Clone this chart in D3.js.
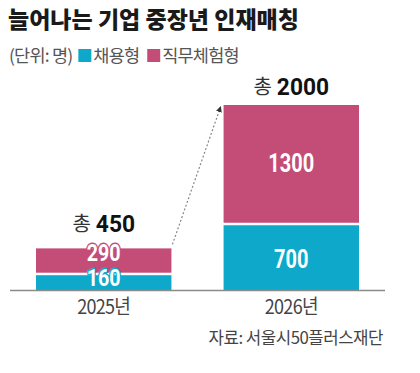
<!DOCTYPE html>
<html><head><meta charset="utf-8">
<script src="https://cdn.jsdelivr.net/npm/d3@7"></script>
<style>
html,body{margin:0;padding:0;background:#fff;}
svg{display:block;}
.kr{font-family:"Noto Sans CJK KR","Noto Sans",sans-serif;}
.num{font-family:"Roboto","Liberation Sans",sans-serif;}
</style>
</head><body>
<svg id="chart" width="420" height="373"></svg>
<script>
const title = "늘어나는 기업 중장년 인재매칭";
const unitLabel = "(단위: 명)";
const seriesNames = ["채용형", "직무체험형"];
const seriesColors = ["#0ea8ca", "#c44d78"];
const categories = ["2025년", "2026년"];
const hiring = [160, 700];       // 채용형
const experience = [290, 1300];  // 직무체험형
const totals = [450, 2000];
const totalPrefix = "총";
const source = "자료: 서울시50플러스재단";

const svg = d3.select("#chart");

const x = d3.scaleBand().domain(categories).range([36, 359]).paddingInner(0.278).paddingOuter(0);
const y = d3.scaleLinear().domain([0, 2000]).range([290, 105]);
const gap = 2.5;

function numText(parent, tx, cy, txt, size, sx, fill, anchor){
  return parent.append("g").attr("transform",`translate(${tx},${cy}) scale(${sx},1)`)
    .append("text").attr("class","num").attr("text-anchor",anchor||"middle").attr("dy","0.36em")
    .attr("font-size",size).attr("font-weight",700).attr("fill",fill).text(txt);
}

// title
svg.append("text").attr("class","kr").attr("x",8).attr("y",28)
  .attr("font-size",23).attr("font-weight",900).attr("fill","#1a1a1a")
  .attr("letter-spacing",0).text(title);

// subtitle / legend (laid out sequentially)
const sub = svg.append("g").attr("class","kr").attr("font-size",17.5).attr("fill","#555");
let cursor = 9;
const u = sub.append("text").attr("x",cursor).attr("y",62).attr("letter-spacing",-0.8).text(unitLabel);
cursor += u.node().getComputedTextLength() + 6;
seriesNames.forEach((n,i)=>{
  sub.append("rect").attr("x",cursor).attr("y",49).attr("width",13).attr("height",13).attr("fill",seriesColors[i]);
  cursor += 15;
  const t = sub.append("text").attr("x",cursor).attr("y",62).attr("letter-spacing",-0.8).text(n);
  cursor += t.node().getComputedTextLength() + 8;
});

// bars
categories.forEach((c,i)=>{
  const bx = x(c), bw = x.bandwidth();
  svg.append("rect").attr("x",bx).attr("width",bw)
    .attr("y",y(hiring[i])).attr("height",y(0)-y(hiring[i])).attr("fill",seriesColors[0]);
  svg.append("rect").attr("x",bx).attr("width",bw)
    .attr("y",y(hiring[i]+experience[i])).attr("height",y(hiring[i])-y(hiring[i]+experience[i])-gap)
    .attr("fill",seriesColors[1]);
});

// value labels
categories.forEach((c,i)=>{
  const cx = x(c)+x.bandwidth()/2;
  if (i===0){
    numText(svg, cx, y(hiring[i]+experience[i])+4, experience[i], 24, 0.82, "#fff")
      .attr("stroke",seriesColors[1]).attr("stroke-width",3).attr("paint-order","stroke").attr("stroke-linejoin","round");
    numText(svg, cx, y(hiring[i])+2, hiring[i], 24, 0.82, "#fff")
      .attr("stroke",seriesColors[0]).attr("stroke-width",3).attr("paint-order","stroke").attr("stroke-linejoin","round");
  } else {
    numText(svg, cx, (y(hiring[i]+experience[i])+y(hiring[i]))/2-2, experience[i], 25, 0.8, "#fff");
    numText(svg, cx, (y(hiring[i])+y(0))/2+1, hiring[i], 25, 0.8, "#fff");
  }
});

// totals: "총" + bold number, centred over each bar
categories.forEach((c,i)=>{
  const cx = x(c)+x.bandwidth()/2;
  const cy = y(totals[i]) - (i===0 ? 25 : 18.5);
  const g = svg.append("g");
  const pre = g.append("text").attr("class","kr").attr("y",cy).attr("dy","0.36em")
    .attr("font-size",20).attr("fill","#333").text(totalPrefix);
  const preW = pre.node().getComputedTextLength();
  const n = numText(g, 0, cy, totals[i], 24, 0.95, "#111", "start");
  const numW = n.node().getComputedTextLength()*0.95;
  const total = preW + 5 + numW;
  const start = cx - total/2;
  pre.attr("x", start);
  d3.select(n.node().parentNode).attr("transform",`translate(${start+preW+5},${cy}) scale(0.95,1)`);
});

// baseline
svg.append("line").attr("x1",10).attr("x2",385).attr("y1",y(0)+0.5).attr("y2",y(0)+0.5)
  .attr("stroke","#8a8a8a").attr("stroke-width",1.5);

// category labels
categories.forEach(c=>{
  svg.append("g").attr("transform",`translate(${x(c)+x.bandwidth()/2},307) scale(0.9,1)`)
    .append("text").attr("class","kr").attr("dy","0.36em")
    .attr("text-anchor","middle").attr("font-size",20).attr("fill","#444").attr("letter-spacing",-0.8).text(c);
});

// arrow
svg.append("defs").append("marker").attr("id","ah").attr("viewBox","0 0 6 6").attr("refX",5).attr("refY",3)
  .attr("markerWidth",5).attr("markerHeight",5).attr("orient","auto")
  .append("path").attr("d","M0,0L6,3L0,6Z").attr("fill","#333");
const x0 = x(categories[0])+x.bandwidth()+1, x1 = x(categories[1])-3;
svg.append("line").attr("x1",x0).attr("y1",y(totals[0])-4).attr("x2",x1).attr("y2",y(totals[1])+2)
  .attr("stroke","#888").attr("stroke-width",1.2).attr("stroke-dasharray","2,2").attr("marker-end","url(#ah)");

// source
svg.append("text").attr("class","kr").attr("x",383).attr("y",338).attr("dy","0.36em")
  .attr("text-anchor","end").attr("font-size",16.8).attr("fill","#444").attr("letter-spacing",-0.5).text(source);
</script>
</body></html>
